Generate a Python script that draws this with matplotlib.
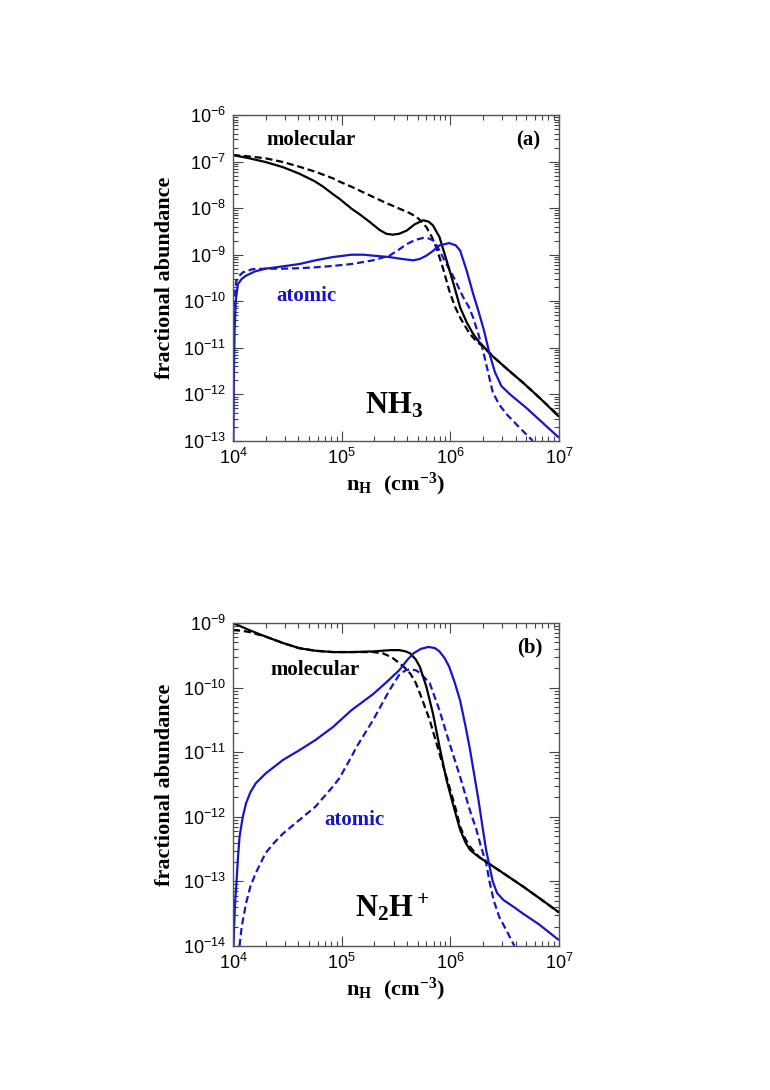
import numpy as np
import matplotlib
matplotlib.use("Agg")
import matplotlib.pyplot as plt
from matplotlib.ticker import FixedLocator, FixedFormatter, LogLocator, NullFormatter

plt.rcParams['mathtext.fontset'] = 'custom'
plt.rcParams['mathtext.rm'] = 'Liberation Sans'
plt.rcParams['mathtext.bf'] = 'Liberation Serif:bold'
plt.rcParams['mathtext.it'] = 'Liberation Sans:italic'
plt.rcParams['font.family'] = ['Liberation Sans', 'DejaVu Sans']
plt.rcParams['axes.unicode_minus'] = False

BLUE = '#1616c8'

# ---------------- data (log10 n_H, log10 abundance) ----------------
# Panel (a): NH3
a_mol_sol_x = [4.00, 4.15, 4.30, 4.46, 4.61, 4.75, 4.83, 4.92, 4.98, 5.09, 5.17, 5.26, 5.35, 5.41,
               5.47, 5.53, 5.60, 5.67, 5.75, 5.80, 5.84, 5.90, 5.965, 6.03, 6.09, 6.15, 6.21,
               6.26, 6.30, 6.39, 6.52, 6.67, 6.82, 7.00]
a_mol_sol_y = [-6.86, -6.93, -7.01, -7.12, -7.26, -7.42, -7.54, -7.70, -7.80, -8.01, -8.14, -8.30, -8.47, -8.55,
               -8.57, -8.55, -8.48, -8.35, -8.26, -8.29, -8.37, -8.62, -9.12, -9.63, -10.13, -10.45, -10.70,
               -10.86, -10.96, -11.18, -11.45, -11.75, -12.07, -12.48]

a_mol_das_x = [4.00, 4.15, 4.30, 4.46, 4.61, 4.76, 4.92, 4.98, 5.09, 5.29, 5.41, 5.53, 5.62, 5.69,
               5.74, 5.78, 5.83, 5.87, 5.93, 5.99, 6.04, 6.09, 6.14, 6.18, 6.24, 6.30,
               6.39, 6.52, 6.67, 6.82, 7.00]
a_mol_das_y = [-6.86, -6.89, -6.93, -7.01, -7.11, -7.22, -7.36, -7.43, -7.54, -7.76, -7.89, -8.01, -8.10, -8.19,
               -8.30, -8.41, -8.62, -8.84, -9.27, -9.77, -10.10, -10.35, -10.55, -10.70, -10.86, -10.97,
               -11.18, -11.45, -11.75, -12.07, -12.46]

a_atm_sol_x = [4.004, 4.008, 4.015, 4.025, 4.045, 4.08, 4.12, 4.20, 4.30, 4.46, 4.61, 4.76, 4.92,
               5.09, 5.20, 5.29, 5.44, 5.55, 5.66, 5.72, 5.78, 5.84, 5.90, 5.99, 6.05,
               6.09, 6.15, 6.21, 6.26, 6.31, 6.36, 6.41, 6.47, 6.55, 6.70, 6.85, 7.00]
a_atm_sol_y = [-13.0, -11.6, -10.6, -10.0, -9.63, -9.52, -9.45, -9.36, -9.30, -9.25, -9.20, -9.12, -9.05,
               -9.00, -9.00, -9.02, -9.05, -9.09, -9.12, -9.09, -9.02, -8.92, -8.80, -8.75, -8.80,
               -8.91, -9.34, -9.84, -10.22, -10.63, -11.12, -11.52, -11.82, -12.00, -12.29, -12.61, -12.93]

a_atm_das_x = [4.005, 4.015, 4.03, 4.06, 4.09, 4.18, 4.30, 4.46, 4.61, 4.76, 4.92, 5.09, 5.29,
               5.44, 5.52, 5.60, 5.68, 5.75, 5.80, 5.84, 5.88, 5.93, 6.03, 6.12, 6.17,
               6.21, 6.26, 6.30, 6.35, 6.39, 6.45, 6.52, 6.64, 6.76]
a_atm_das_y = [-10.6, -9.90, -9.56, -9.45, -9.38, -9.31, -9.30, -9.30, -9.29, -9.27, -9.24, -9.20, -9.12,
               -9.02, -8.90, -8.77, -8.68, -8.64, -8.65, -8.69, -8.82, -9.05, -9.48, -9.92, -10.12,
               -10.35, -10.72, -11.05, -11.55, -11.95, -12.22, -12.43, -12.72, -13.0]

# Panel (b): N2H+
b_mol_sol_x = [4.00, 4.15, 4.30, 4.46, 4.61, 4.76, 4.92, 5.09, 5.29, 5.45, 5.53, 5.59, 5.63,
               5.68, 5.72, 5.78, 5.84, 5.90, 5.965, 6.03, 6.09, 6.14, 6.18, 6.23, 6.27,
               6.36, 6.52, 6.67, 6.82, 7.00]
b_mol_sol_y = [-9.00, -9.11, -9.21, -9.31, -9.39, -9.43, -9.45, -9.45, -9.44, -9.42, -9.42, -9.44, -9.47,
               -9.56, -9.68, -9.99, -10.40, -10.91, -11.43, -11.84, -12.20, -12.40, -12.51, -12.58, -12.63,
               -12.73, -12.91, -13.08, -13.26, -13.48]

b_mol_das_x = [4.00, 4.08, 4.15, 4.30, 4.46, 4.61, 4.76, 4.92, 5.09, 5.29, 5.38, 5.46, 5.53,
               5.58, 5.63, 5.68, 5.72, 5.81, 5.90, 5.99, 6.05, 6.09, 6.14, 6.18, 6.23,
               6.27, 6.36, 6.52, 6.67, 6.82, 7.00]
b_mol_das_y = [-9.11, -9.12, -9.14, -9.21, -9.31, -9.39, -9.43, -9.45, -9.45, -9.45, -9.47, -9.53, -9.62,
               -9.69, -9.78, -9.92, -10.09, -10.50, -11.02, -11.53, -11.88, -12.15, -12.35, -12.46, -12.56,
               -12.63, -12.73, -12.91, -13.08, -13.26, -13.48]

b_atm_sol_x = [4.005, 4.01, 4.02, 4.03, 4.045, 4.06, 4.09, 4.12, 4.16, 4.21, 4.30, 4.46, 4.61,
               4.76, 4.92, 5.09, 5.29, 5.41, 5.53, 5.60, 5.66, 5.73, 5.80, 5.86, 5.90,
               5.95, 5.99, 6.04, 6.09, 6.14, 6.18, 6.22, 6.26, 6.30, 6.33, 6.36, 6.39,
               6.43, 6.49, 6.57, 6.67, 6.82, 7.00]
b_atm_sol_y = [-14.0, -13.7, -13.3, -13.08, -12.65, -12.31, -12.00, -11.79, -11.62, -11.48, -11.33, -11.12, -10.97,
               -10.81, -10.61, -10.35, -10.10, -9.92, -9.73, -9.58, -9.47, -9.40, -9.37, -9.39, -9.44,
               -9.55, -9.68, -9.92, -10.20, -10.60, -10.95, -11.35, -11.75, -12.20, -12.52, -12.76, -13.00,
               -13.18, -13.29, -13.38, -13.50, -13.67, -13.91]

b_atm_das_x = [4.06, 4.08, 4.12, 4.16, 4.21, 4.30, 4.38, 4.46, 4.61, 4.76, 4.92, 4.98, 5.09,
               5.14, 5.29, 5.44, 5.53, 5.59, 5.63, 5.68, 5.72, 5.81, 5.90, 5.99, 6.09,
               6.18, 6.24, 6.28, 6.33, 6.36, 6.40, 6.45, 6.52, 6.59]
b_atm_das_y = [-14.0, -13.70, -13.34, -13.08, -12.87, -12.56, -12.40, -12.26, -12.05, -11.84, -11.53, -11.40, -11.07,
               -10.91, -10.50, -10.04, -9.80, -9.73, -9.72, -9.73, -9.77, -9.93, -10.35, -10.85, -11.38,
               -11.90, -12.20, -12.45, -12.72, -13.00, -13.30, -13.55, -13.77, -14.0]

a_yticks = [-13, -12, -11, -10, -9, -8, -7, -6]
b_yticks = [-14, -13, -12, -11, -10, -9]
xticks = [4, 5, 6, 7]

SERIF = 'Liberation Serif'

fig = plt.figure(figsize=(7.7, 10.9), dpi=100)
ax_a = fig.add_axes([233/770, 1 - 441/1090, 326/770, 326/1090])
ax_b = fig.add_axes([233/770, 1 - 946/1090, 326/770, 323/1090])


def setup(ax, yt, ylo, yhi):
    ax.set_xscale('log')
    ax.set_yscale('log')
    ax.set_xlim(1e4, 1e7)
    ax.set_ylim(10.0 ** ylo, 10.0 ** yhi)
    ax.xaxis.set_major_locator(FixedLocator([10.0 ** v for v in xticks]))
    ax.xaxis.set_major_formatter(FixedFormatter([r'$\mathdefault{10^{%d}}$' % v for v in xticks]))
    ax.yaxis.set_major_locator(FixedLocator([10.0 ** v for v in yt]))
    ax.yaxis.set_major_formatter(FixedFormatter([r'$\mathdefault{10^{%d}}$' % v for v in yt]))
    ax.xaxis.set_minor_locator(LogLocator(base=10, subs=np.arange(2, 10), numticks=20))
    ax.yaxis.set_minor_locator(LogLocator(base=10, subs=np.arange(2, 10), numticks=20))
    ax.xaxis.set_minor_formatter(NullFormatter())
    ax.yaxis.set_minor_formatter(NullFormatter())
    ax.tick_params(which='both', direction='in', top=True, right=True, width=0.8, color='#444444')
    ax.tick_params(which='major', length=7, labelsize=13, pad=5)
    ax.tick_params(which='minor', length=3.5)
    for lab in ax.get_xticklabels() + ax.get_yticklabels():
        lab.set_fontfamily('Liberation Sans')
    for s in ax.spines.values():
        s.set_linewidth(1.0)
        s.set_color('#555555')
    ax.set_ylabel('fractional abundance', fontfamily=SERIF, fontweight='bold', fontsize=16, labelpad=6)
    ax.set_xlabel(r'$\mathbf{n_H\ \ (cm^{-3})}$', fontsize=16, labelpad=2)


def draw(ax, xs, ys, color, ls):
    kw = dict(color=color, lw=1.6, solid_capstyle='butt', dash_capstyle='butt')
    if ls == '--':
        kw['dashes'] = (3.2, 1.7)
    ax.plot(10.0 ** np.array(xs), 10.0 ** np.array(ys), **kw)


setup(ax_a, a_yticks, -13, -6)
draw(ax_a, a_mol_das_x, a_mol_das_y, 'black', '--')
draw(ax_a, a_atm_das_x, a_atm_das_y, BLUE, '--')
draw(ax_a, a_mol_sol_x, a_mol_sol_y, 'black', '-')
draw(ax_a, a_atm_sol_x, a_atm_sol_y, BLUE, '-')

fig.text(311/770, 1 - 140/1090, 'molecular', fontfamily=SERIF, fontweight='bold', fontsize=15,
         ha='center', va='center', color='black')
fig.text(528/770, 1 - 140/1090, '(a)', fontfamily=SERIF, fontweight='bold', fontsize=15,
         ha='center', va='center', color='black')
fig.text(306/770, 1 - 296/1090, 'atomic', fontfamily=SERIF, fontweight='bold', fontsize=15,
         ha='center', va='center', color=BLUE)
fig.text(394/770, 1 - 405/1090, r'$\mathbf{NH_3}$', fontsize=22, ha='center', va='center')

setup(ax_b, b_yticks, -14, -9)
draw(ax_b, b_mol_das_x, b_mol_das_y, 'black', '--')
draw(ax_b, b_atm_das_x, b_atm_das_y, BLUE, '--')
draw(ax_b, b_mol_sol_x, b_mol_sol_y, 'black', '-')
draw(ax_b, b_atm_sol_x, b_atm_sol_y, BLUE, '-')

fig.text(315/770, 1 - 670/1090, 'molecular', fontfamily=SERIF, fontweight='bold', fontsize=15,
         ha='center', va='center', color='black')
fig.text(530/770, 1 - 647/1090, '(b)', fontfamily=SERIF, fontweight='bold', fontsize=15,
         ha='center', va='center', color='black')
fig.text(354/770, 1 - 820/1090, 'atomic', fontfamily=SERIF, fontweight='bold', fontsize=15,
         ha='center', va='center', color=BLUE)
fig.text(392/770, 1 - 908/1090, r'$\mathbf{N_2H^+}$', fontsize=22, ha='center', va='center')

fig.savefig('out.png', dpi=100, facecolor='white')
